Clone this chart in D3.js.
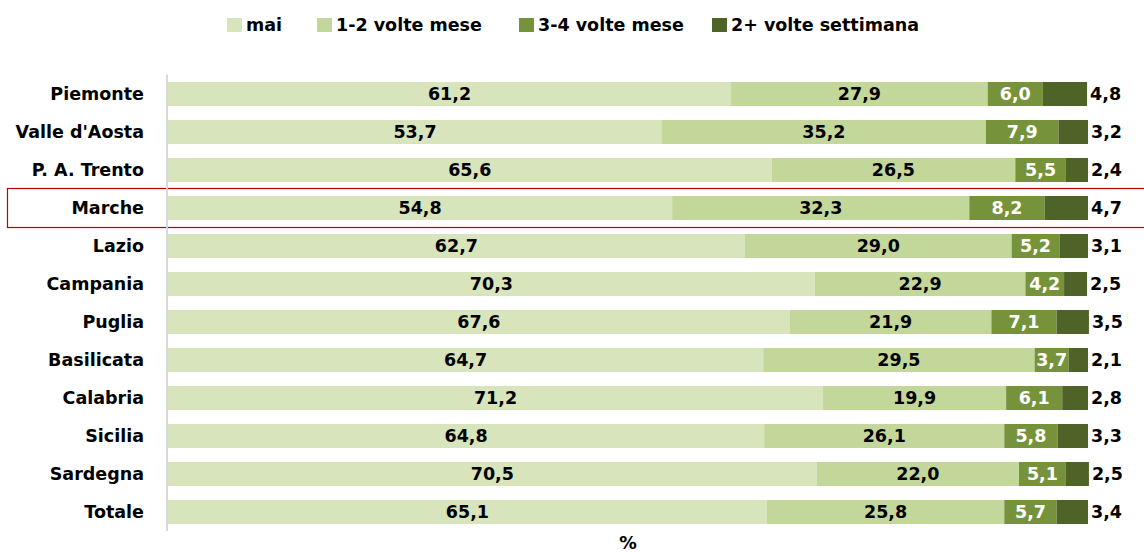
<!DOCTYPE html>
<html>
<head>
<meta charset="utf-8">
<script src="https://cdn.jsdelivr.net/npm/d3@7"></script>
<style>
  body { margin: 0; background: #fff; }
  svg text { font-family: "DejaVu Sans", Verdana, sans-serif; font-weight: bold; }
</style>
</head>
<body>
<div id="chart"></div>
<script>
// data
const regions = ["Piemonte", "Valle d'Aosta", "P. A. Trento", "Marche", "Lazio", "Campania",
  "Puglia", "Basilicata", "Calabria", "Sicilia", "Sardegna", "Totale"];
const seriesNames = ["mai", "1-2 volte mese", "3-4 volte mese", "2+ volte settimana"];
const mai =        [61.2, 53.7, 65.6, 54.8, 62.7, 70.3, 67.6, 64.7, 71.2, 64.8, 70.5, 65.1];
const volte12 =    [27.9, 35.2, 26.5, 32.3, 29.0, 22.9, 21.9, 29.5, 19.9, 26.1, 22.0, 25.8];
const volte34 =    [6.0, 7.9, 5.5, 8.2, 5.2, 4.2, 7.1, 3.7, 6.1, 5.8, 5.1, 5.7];
const settimana =  [4.8, 3.2, 2.4, 4.7, 3.1, 2.5, 3.5, 2.1, 2.8, 3.3, 2.5, 3.4];
const highlight = "Marche";

const colors = ["#d8e4bc", "#c4d79b", "#76933c", "#4f6228"];
const labelColors = ["#000", "#000", "#fff", "#000"];

const width = 1144, height = 552;
const margin = {top: 74.4, right: 56, bottom: 20.4, left: 168};

const svg = d3.select("#chart").append("svg")
  .attr("width", width)
  .attr("height", height);

const rows = regions.map(function(r, i) {
  return {region: r, mai: mai[i], v12: volte12[i], v34: volte34[i], sett: settimana[i]};
});
const keys = ["mai", "v12", "v34", "sett"];
const stacked = d3.stack().keys(keys)(rows);

const x = d3.scaleLinear().domain([0, 100]).range([margin.left, width - margin.right]);
const y = d3.scaleBand().domain(regions)
  .range([margin.top, height - margin.bottom])
  .paddingInner(0.368).paddingOuter(0.2);

// highlight box
svg.append("rect")
  .attr("x", 7.5)
  .attr("y", y(highlight) + y.bandwidth() / 2 - 19.5)
  .attr("width", width)
  .attr("height", 39)
  .attr("fill", "none")
  .attr("stroke", "#c00000")
  .attr("stroke-width", 1.2);

// bars
const groups = svg.selectAll("g.series")
  .data(stacked)
  .enter().append("g")
  .attr("class", "series")
  .attr("fill", function(d, i) { return colors[i]; });

groups.selectAll("rect")
  .data(function(d) { return d; })
  .enter().append("rect")
  .attr("x", function(d) { return x(d[0]); })
  .attr("y", function(d) { return y(d.data.region); })
  .attr("width", function(d) { return x(d[1]) - x(d[0]); })
  .attr("height", y.bandwidth());

// value labels
const fmt = function(v) { return v.toFixed(1).replace(".", ","); };
stacked.forEach(function(s, i) {
  svg.append("g").selectAll("text")
    .data(s)
    .enter().append("text")
    .attr("x", function(d) { return i === 3 ? x(d[1]) + 3 : (x(d[0]) + x(d[1])) / 2; })
    .attr("y", function(d) { return y(d.data.region) + y.bandwidth() / 2; })
    .attr("dy", "0.36em")
    .attr("text-anchor", i === 3 ? "start" : "middle")
    .attr("fill", labelColors[i])
    .style("font-size", "17.5px")
    .text(function(d) { return fmt(d.data[keys[i]]); });
});

// y axis
const yAxis = svg.append("g")
  .attr("transform", "translate(" + (margin.left - 1) + ",0)")
  .call(d3.axisLeft(y).tickSize(0).tickPadding(23));
yAxis.select(".domain")
  .attr("d", "M0," + margin.top + "V" + 531)
  .attr("stroke", "#d9d9d9")
  .attr("stroke-width", 2);
yAxis.selectAll("text")
  .attr("fill", "#000")
  .style("font-size", "17.5px")
  .style("font-family", "DejaVu Sans, Verdana, sans-serif");

// x axis title
svg.append("text")
  .attr("x", (x(0) + x(100)) / 2)
  .attr("y", 549)
  .attr("text-anchor", "middle")
  .style("font-size", "17.5px")
  .text("%");

// legend
const legendX = [227, 317, 519, 712];
const legend = svg.append("g").selectAll("g")
  .data(seriesNames)
  .enter().append("g")
  .attr("transform", function(d, i) { return "translate(" + legendX[i] + ",18)"; });
legend.append("rect")
  .attr("width", 15).attr("height", 14)
  .attr("fill", function(d, i) { return colors[i]; });
legend.append("text")
  .attr("x", 19).attr("y", 7).attr("dy", "0.36em")
  .style("font-size", "17.5px")
  .text(function(d) { return d; });
</script>
</body>
</html>
